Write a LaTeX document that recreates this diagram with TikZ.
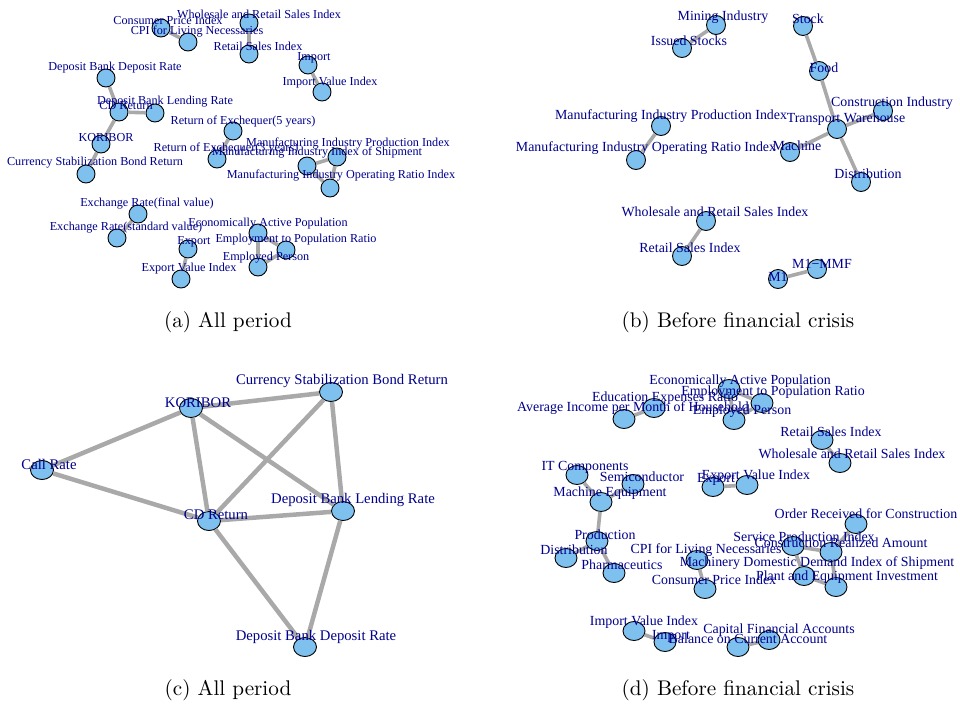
\documentclass[tikz,border=0pt]{standalone}
\usepackage{fontspec}
\newfontfamily\netfont{Liberation Serif}
\newfontfamily\capfont{lmroman10-regular}[Extension=.otf]
\usetikzlibrary{shapes.geometric}

\definecolor{vfill}{HTML}{7EC0EE}
\definecolor{vtext}{HTML}{00008B}
\definecolor{egray}{HTML}{A9A9A9}

\begin{document}
\begin{tikzpicture}[
  x=1pt, y=-1pt,
  vtx/.style={circle, draw=black, line width=0.9pt, fill=vfill, inner sep=0pt, minimum size=18pt},
  vtxb/.style={vtx, minimum size=19pt},
  vtxe/.style={ellipse, draw=black, line width=0.9pt, fill=vfill, inner sep=0pt,
               minimum width=23pt, minimum height=19pt},
  vtxd/.style={vtxe, minimum width=22pt},
  lbl/.style={text=vtext, inner sep=0pt, font=\netfont\fontsize{12.2}{13}\selectfont},
  lblb/.style={lbl, font=\netfont\fontsize{13.9}{15}\selectfont},
  lblc/.style={lbl, font=\netfont\fontsize{14.7}{16}\selectfont},
  link/.style={line width=3.6pt, egray},
  linkc/.style={link, line width=4.5pt},
  capt/.style={font=\capfont\fontsize{21.2}{25}\selectfont}
]
  \useasboundingbox (0,0) rectangle (960,704);

  % (a) all period
  \node[vtx] (a-cpi) at (161,28) {};
  \node[vtx] (a-cpil) at (188,42) {};
  \node[vtx] (a-wrs) at (249,23) {};
  \node[vtx] (a-rs) at (249,54) {};
  \node[vtx] (a-imp) at (308,65) {};
  \node[vtx] (a-impv) at (322,92) {};
  \node[vtx] (a-dbdr) at (106,78) {};
  \node[vtx] (a-cd) at (119,112) {};
  \node[vtx] (a-dblr) at (155,113) {};
  \node[vtx] (a-kor) at (101,144) {};
  \node[vtx] (a-csbr) at (86,174) {};
  \node[vtx] (a-roe5) at (233,131) {};
  \node[vtx] (a-roe3) at (217,159) {};
  \node[vtx] (a-mipi) at (337,157) {};
  \node[vtx] (a-miis) at (307,166) {};
  \node[vtx] (a-mior) at (330,188) {};
  \node[vtx] (a-erf) at (138,214) {};
  \node[vtx] (a-ers) at (117,238) {};
  \node[vtx] (a-exp) at (188,249) {};
  \node[vtx] (a-expv) at (181,279) {};
  \node[vtx] (a-eap) at (258,233) {};
  \node[vtx] (a-epr) at (286,250) {};
  \node[vtx] (a-ep) at (258,267) {};

  \draw[link] (a-cpi) -- (a-cpil);
  \draw[link] (a-wrs) -- (a-rs);
  \draw[link] (a-imp) -- (a-impv);
  \draw[link] (a-dbdr) -- (a-cd);
  \draw[link] (a-cd) -- (a-dblr);
  \draw[link] (a-cd) -- (a-kor);
  \draw[link] (a-kor) -- (a-csbr);
  \draw[link] (a-roe5) -- (a-roe3);
  \draw[link] (a-miis) -- (a-mipi);
  \draw[link] (a-mipi) -- (a-mior);
  \draw[link] (a-miis) -- (a-mior);
  \draw[link] (a-erf) -- (a-ers);
  \draw[link] (a-exp) -- (a-expv);
  \draw[link] (a-eap) -- (a-epr);
  \draw[link] (a-eap) -- (a-ep);
  \draw[link] (a-epr) -- (a-ep);

  \node[lbl] (a-cpi-t) at (168,20) {Consumer Price Index};
  \node[lbl] (a-cpil-t) at (197,32) {CPI for Living Necessaries};
  \node[lbl] (a-wrs-t) at (259,14) {Wholesale and Retail Sales Index};
  \node[lbl] (a-rs-t) at (258,46) {Retail Sales Index};
  \node[lbl] (a-imp-t) at (314,58) {Import};
  \node[lbl] (a-impv-t) at (330,83) {Import Value Index};
  \node[lbl] (a-dbdr-t) at (115,68) {Deposit Bank Deposit Rate};
  \node[lbl] (a-cd-t) at (126,106) {CD Return};
  \node[lbl] (a-dblr-t) at (165,102) {Deposit Bank Lending Rate};
  \node[lbl] (a-kor-t) at (106,138) {KORIBOR};
  \node[lbl] (a-csbr-t) at (95,163) {Currency Stabilization Bond Return};
  \node[lbl] (a-roe5-t) at (243,122) {Return of Exchequer(5 years)};
  \node[lbl] (a-roe3-t) at (226,149) {Return of Exchequer(3 years)};
  \node[lbl] (a-mipi-t) at (348,144) {Manufacturing Industry Production Index};
  \node[lbl] (a-miis-t) at (317,153) {Manufacturing Industry Index of Shipment};
  \node[lbl] (a-mior-t) at (341,176) {Manufacturing Industry Operating Ratio Index};
  \node[lbl] (a-erf-t) at (147,204) {Exchange Rate(final value)};
  \node[lbl] (a-ers-t) at (126,228) {Exchange Rate(standard value)};
  \node[lbl] (a-exp-t) at (194,242) {Export};
  \node[lbl] (a-expv-t) at (189,269) {Export Value Index};
  \node[lbl] (a-eap-t) at (268,224) {Economically Active Population};
  \node[lbl] (a-epr-t) at (296,240) {Employment to Population Ratio};
  \node[lbl] (a-ep-t) at (266,258) {Employed Person};

  \node[capt] (cap-a) at (228,322) {(a) All period};

  % (b) before financial crisis
  \node[vtxb] (b-min) at (716,25) {};
  \node[vtxb] (b-iss) at (682,48) {};
  \node[vtxb] (b-stk) at (803,26) {};
  \node[vtxb] (b-food) at (819,71) {};
  \node[vtxb] (b-con) at (883,111) {};
  \node[vtxb] (b-trw) at (837,129) {};
  \node[vtxb] (b-mac) at (790,152) {};
  \node[vtxb] (b-dis) at (861,182) {};
  \node[vtxb] (b-mipi) at (661,126) {};
  \node[vtxb] (b-mior) at (636,160) {};
  \node[vtxb] (b-wrs) at (706,221) {};
  \node[vtxb] (b-rs) at (682,256) {};
  \node[vtxb] (b-m1) at (778,279) {};
  \node[vtxb] (b-mmf) at (817,269) {};

  \draw[link] (b-min) -- (b-iss);
  \draw[link] (b-stk) -- (b-food);
  \draw[link] (b-food) -- (b-trw);
  \draw[link] (b-con) -- (b-trw);
  \draw[link] (b-mac) -- (b-trw);
  \draw[link] (b-trw) -- (b-dis);
  \draw[link] (b-mipi) -- (b-mior);
  \draw[link] (b-wrs) -- (b-rs);
  \draw[link] (b-m1) -- (b-mmf);

  \node[lblb] (b-min-t) at (723,17) {Mining Industry};
  \node[lblb] (b-iss-t) at (689,41) {Issued Stocks};
  \node[lblb] (b-stk-t) at (808,19) {Stock};
  \node[lblb] (b-food-t) at (824,68) {Food};
  \node[lblb] (b-con-t) at (892,103) {Construction Industry};
  \node[lblb] (b-trw-t) at (846,119) {Transport Warehouse};
  \node[lblb] (b-mac-t) at (797,146) {Machine};
  \node[lblb] (b-dis-t) at (868,174) {Distribution};
  \node[lblb] (b-mipi-t) at (671,116) {Manufacturing Industry Production Index};
  \node[lblb] (b-mior-t) at (646,148) {Manufacturing Industry Operating Ratio Index};
  \node[lblb] (b-wrs-t) at (715,212) {Wholesale and Retail Sales Index};
  \node[lblb] (b-rs-t) at (690,248) {Retail Sales Index};
  \node[lblb] (b-m1-t) at (778,277) {M1};
  \node[lblb] (b-mmf-t) at (822,264) {M1−MMF};

  \node[capt] (cap-b) at (738,322) {(b) Before financial crisis};

  % (c) all period
  \node[vtxe] (c-csbr) at (331,392) {};
  \node[vtxe] (c-kor) at (191,408) {};
  \node[vtxe] (c-call) at (42,470) {};
  \node[vtxe] (c-dblr) at (343,511) {};
  \node[vtxe] (c-cd) at (209,521) {};
  \node[vtxe] (c-dbdr) at (305,647) {};

  \draw[linkc] (c-kor) -- (c-csbr);
  \draw[linkc] (c-kor) -- (c-call);
  \draw[linkc] (c-kor) -- (c-cd);
  \draw[linkc] (c-kor) -- (c-dblr);
  \draw[linkc] (c-csbr) -- (c-cd);
  \draw[linkc] (c-csbr) -- (c-dblr);
  \draw[linkc] (c-call) -- (c-cd);
  \draw[linkc] (c-cd) -- (c-dblr);
  \draw[linkc] (c-cd) -- (c-dbdr);
  \draw[linkc] (c-dblr) -- (c-dbdr);

  \node[lblc] (c-csbr-t) at (342,381) {Currency Stabilization Bond Return};
  \node[lblc] (c-kor-t) at (198,403) {KORIBOR};
  \node[lblc] (c-call-t) at (49,464) {Call Rate};
  \node[lblc] (c-dblr-t) at (353,500) {Deposit Bank Lending Rate};
  \node[lblc] (c-cd-t) at (216,515) {CD Return};
  \node[lblc] (c-dbdr-t) at (316,637) {Deposit Bank Deposit Rate};

  \node[capt] (cap-c) at (228,690) {(c) All period};

  % (d) before financial crisis
  \node[vtxd] (d-eap) at (729,389) {};
  \node[vtxd] (d-epr) at (762,403) {};
  \node[vtxd] (d-ep) at (734,420) {};
  \node[vtxd] (d-edu) at (654,408) {};
  \node[vtxd] (d-avg) at (624,419) {};
  \node[vtxd] (d-rs) at (822,440) {};
  \node[vtxd] (d-wrs) at (840,463) {};
  \node[vtxd] (d-it) at (577,475) {};
  \node[vtxd] (d-semi) at (633,484) {};
  \node[vtxd] (d-meq) at (601,502) {};
  \node[vtxd] (d-prod) at (597,541) {};
  \node[vtxd] (d-dis) at (566,558) {};
  \node[vtxd] (d-pha) at (614,573) {};
  \node[vtxd] (d-exp) at (713,487) {};
  \node[vtxd] (d-expv) at (747,485) {};
  \node[vtxd] (d-cpil) at (697,560) {};
  \node[vtxd] (d-cpi) at (705,589) {};
  \node[vtxd] (d-orc) at (856,524) {};
  \node[vtxd] (d-spi) at (793,546) {};
  \node[vtxd] (d-cra) at (831,552) {};
  \node[vtxd] (d-mdd) at (804,576) {};
  \node[vtxd] (d-pei) at (836,587) {};
  \node[vtxd] (d-impv) at (634,631) {};
  \node[vtxd] (d-imp) at (665,642) {};
  \node[vtxd] (d-bal) at (738,647) {};
  \node[vtxd] (d-cap) at (769,640) {};

  \draw[link] (d-eap) -- (d-epr);
  \draw[link] (d-eap) -- (d-ep);
  \draw[link] (d-epr) -- (d-ep);
  \draw[link] (d-edu) -- (d-avg);
  \draw[link] (d-rs) -- (d-wrs);
  \draw[link] (d-it) -- (d-meq);
  \draw[link] (d-semi) -- (d-meq);
  \draw[link] (d-meq) -- (d-prod);
  \draw[link] (d-prod) -- (d-dis);
  \draw[link] (d-prod) -- (d-pha);
  \draw[link] (d-exp) -- (d-expv);
  \draw[link] (d-cpil) -- (d-cpi);
  \draw[link] (d-orc) -- (d-cra);
  \draw[link] (d-spi) -- (d-cra);
  \draw[link] (d-spi) -- (d-mdd);
  \draw[link] (d-cra) -- (d-pei);
  \draw[link] (d-mdd) -- (d-pei);
  \draw[link] (d-impv) -- (d-imp);
  \draw[link] (d-bal) -- (d-cap);

  \node[lblb] (d-eap-t) at (740,381) {Economically Active Population};
  \node[lblb] (d-epr-t) at (773,392) {Employment to Population Ratio};
  \node[lblb] (d-ep-t) at (742,411) {Employed Person};
  \node[lblb] (d-edu-t) at (665,398) {Education Expenses Ratio};
  \node[lblb] (d-avg-t) at (633,408) {Average Income per Month of Household};
  \node[lblb] (d-rs-t) at (831,432) {Retail Sales Index};
  \node[lblb] (d-wrs-t) at (852,454) {Wholesale and Retail Sales Index};
  \node[lblb] (d-it-t) at (585,467) {IT Components};
  \node[lblb] (d-semi-t) at (642,477) {Semiconductor};
  \node[lblb] (d-meq-t) at (610,493) {Machine Equipment};
  \node[lblb] (d-prod-t) at (605,535) {Production};
  \node[lblb] (d-dis-t) at (574,550) {Distribution};
  \node[lblb] (d-pha-t) at (622,565) {Pharmaceutics};
  \node[lblb] (d-exp-t) at (716,479) {Export};
  \node[lblb] (d-expv-t) at (756,476) {Export Value Index};
  \node[lblb] (d-cpil-t) at (706,550) {CPI for Living Necessaries};
  \node[lblb] (d-cpi-t) at (714,580) {Consumer Price Index};
  \node[lblb] (d-orc-t) at (866,514) {Order Received for Construction};
  \node[lblb] (d-spi-t) at (804,537) {Service Production Index};
  \node[lblb] (d-cra-t) at (841,543) {Construction Realized Amount};
  \node[lblb] (d-mdd-t) at (817,563) {Machinery Domestic Demand Index of Shipment};
  \node[lblb] (d-pei-t) at (847,577) {Plant and Equipment Investment};
  \node[lblb] (d-impv-t) at (644,622) {Import Value Index};
  \node[lblb] (d-imp-t) at (671,636) {Import};
  \node[lblb] (d-bal-t) at (748,639) {Balance on Current Account};
  \node[lblb] (d-cap-t) at (779,630) {Capital Financial Accounts};

  \node[capt] (cap-d) at (738,690) {(d) Before financial crisis};
\end{tikzpicture}
\end{document}
